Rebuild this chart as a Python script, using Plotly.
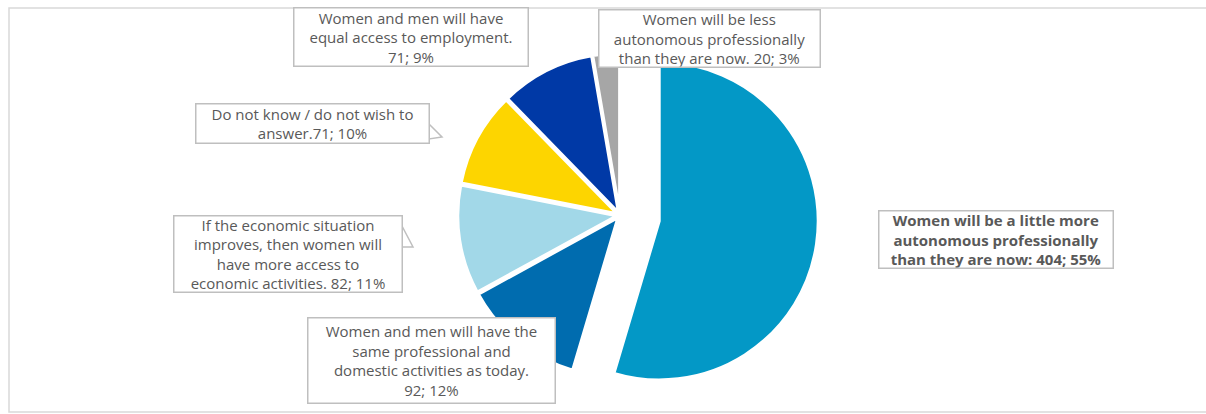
import plotly.graph_objects as go

# Survey answers, in clockwise order starting at 12 o'clock
categories = [
    "Women will be a little more autonomous professionally than they are now",
    "Women and men will have the same professional and domestic activities as today",
    "If the economic situation improves, then women will have more access to economic activities",
    "Do not know / do not wish to answer",
    "Women and men will have equal access to employment",
    "Women will be less autonomous professionally than they are now",
]
counts = [404, 92, 82, 71, 71, 20]
shares = [55, 12, 11, 10, 9, 3]

# Label wording (line breaks as printed) preceding "count; share%"
label_heads = [
    "Women will be a little more<br>autonomous professionally<br>than they are now: ",
    "Women and men will have the<br>same professional and<br>domestic activities as today.<br>",
    "If the economic situation<br>improves, then women will<br>have more access to<br>economic activities. ",
    "Do not know / do not wish to<br>answer.",
    "Women and men will have<br>equal access to employment.<br>",
    "Women will be less<br>autonomous professionally<br>than they are now. ",
]

colors = ["#0398C6", "#006CAF", "#A2D8E8", "#FDD500", "#0039A6", "#A6A6A6"]
pulls = [0.25, 0.02, 0.02, 0.02, 0.02, 0.02]

W, H = 1206, 414

fig = go.Figure(
    go.Pie(
        labels=categories,
        values=counts,
        sort=False,
        direction="clockwise",
        rotation=0,
        pull=pulls,
        marker=dict(colors=colors, line=dict(color="white", width=3)),
        textinfo="none",
        hoverinfo="label+value+percent",
        showlegend=False,
        domain=dict(x=[0.25, 0.778], y=[0.0, 0.96]),
    )
)

# Callout boxes: centre (px), size (px)
boxes = [
    (995.5, 239, 235, 58),
    (431, 360, 248, 86),
    (287.5, 254.5, 229, 77),
    (312, 123, 234, 40),
    (411.5, 37.5, 235, 59),
    (709, 39, 222, 58),
]

for i, (cx, cy, bw, bh) in enumerate(boxes):
    text = f"{label_heads[i]}{counts[i]}; {shares[i]}%"
    if i == 0:
        text = f"<b>{text}</b>"
    fig.add_annotation(
        x=cx / W, y=1 - cy / H, xref="paper", yref="paper",
        xanchor="center", yanchor="middle",
        text=text, showarrow=False, align="center",
        width=bw - 2, height=bh - 2,
        font=dict(family="Open Sans", size=15, color="#595959"),
        bgcolor="white", bordercolor="#BFBFBF", borderwidth=1.5, borderpad=0,
    )

# Small callout pointers on the left-hand boxes
pointers = [
    [(429, 124), (442, 137), (429, 139)],
    [(402, 226), (413, 247), (402, 247)],
]
for pts in pointers:
    path = "M " + " L ".join(f"{x / W},{1 - y / H}" for x, y in pts) + " Z"
    fig.add_shape(type="path", xref="paper", yref="paper", path=path,
                  fillcolor="white", line=dict(color="#BFBFBF", width=1.5),
                  layer="above")

# Chart-area frame
fig.add_shape(type="rect", xref="paper", yref="paper",
              x0=9 / W, y0=1 - 412 / H, x1=1.01, y1=1 - 8 / H,
              line=dict(color="#D9D9D9", width=1.5), layer="below")

fig.update_layout(
    width=W, height=H,
    margin=dict(l=0, r=0, t=0, b=0),
    paper_bgcolor="white",
    plot_bgcolor="white",
)

fig.write_html("out.html")
